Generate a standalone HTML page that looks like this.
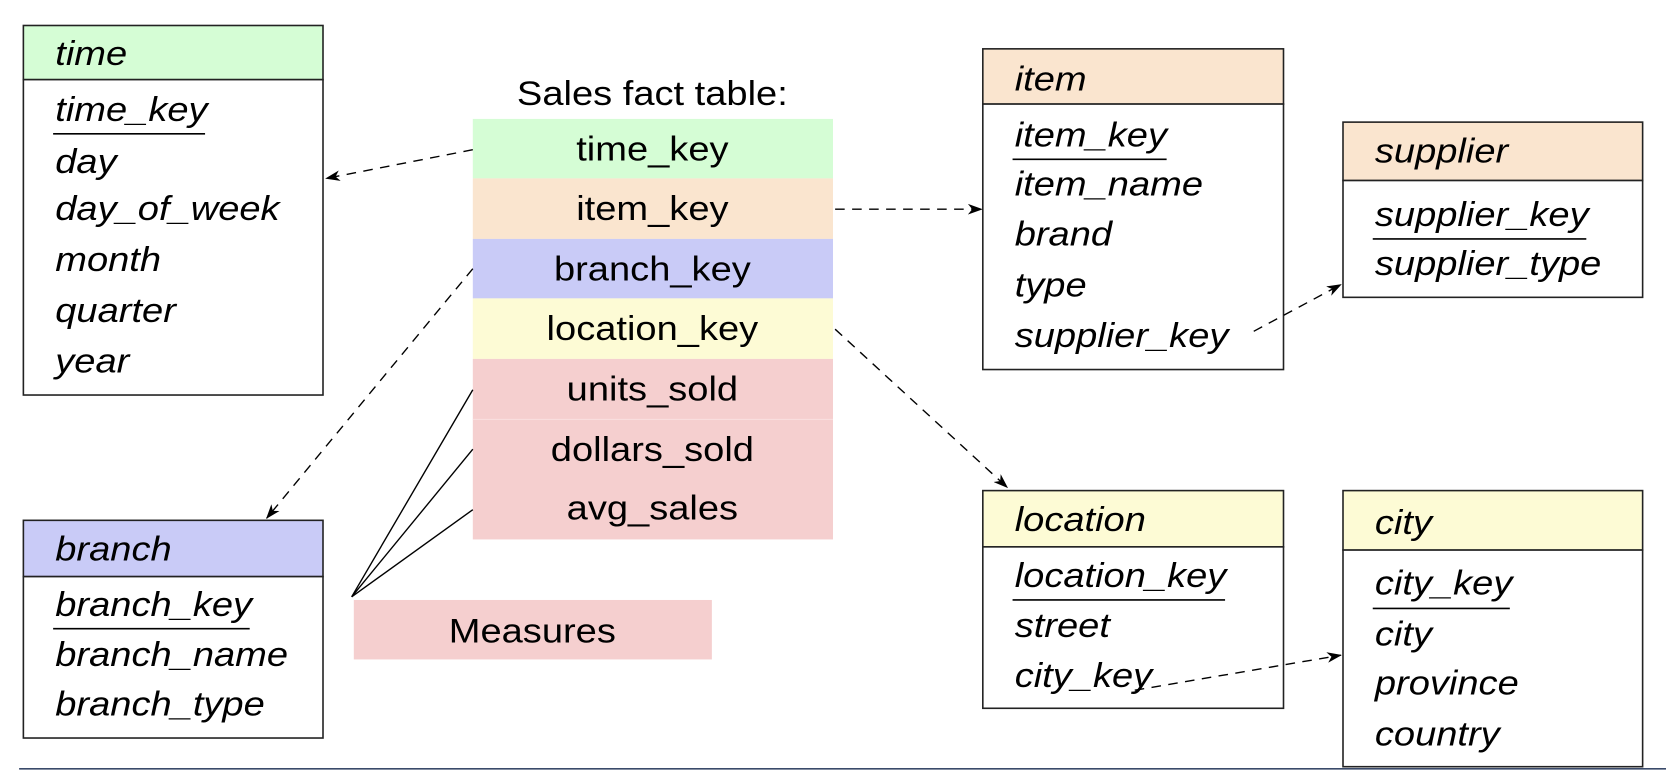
<!DOCTYPE html>
<html><head><meta charset="utf-8"><style>
html,body{margin:0;padding:0;background:#fff;width:1666px;height:772px;overflow:hidden}
svg{display:block}
text{font-family:"Liberation Sans",Arial,sans-serif;font-size:32px;fill:#000}
.i text{font-style:italic}
</style></head><body>
<svg width="1666" height="772" viewBox="0 0 1568 727" preserveAspectRatio="none" xmlns="http://www.w3.org/2000/svg">
<defs>
<marker id="ar" markerWidth="14" markerHeight="10" refX="13" refY="5" orient="auto" markerUnits="userSpaceOnUse">
<path d="M0,0 L14,5 L0,10 L4,5 Z" fill="#000"/>
</marker>
</defs>
<g stroke="#222" stroke-width="1.5">
<rect x="22" y="24" width="282" height="51" fill="#d5fdd5"/>
<rect x="22" y="75" width="282" height="297" fill="#fff"/>
<rect x="925" y="46" width="283" height="52" fill="#fae5cf"/>
<rect x="925" y="98" width="283" height="250" fill="#fff"/>
<rect x="1264" y="115" width="282" height="55" fill="#fae5cf"/>
<rect x="1264" y="170" width="282" height="110" fill="#fff"/>
<rect x="925" y="462" width="283" height="53" fill="#fdfbd5"/>
<rect x="925" y="515" width="283" height="152" fill="#fff"/>
<rect x="1264" y="462" width="282" height="56" fill="#fdfbd5"/>
<rect x="1264" y="518" width="282" height="204" fill="#fff"/>
<rect x="22" y="490" width="282" height="53" fill="#c9cbf7"/>
<rect x="22" y="543" width="282" height="152" fill="#fff"/>
</g>
<rect x="445" y="112" width="339" height="56" fill="#d5fdd5"/>
<rect x="445" y="168" width="339" height="57" fill="#fae5cf"/>
<rect x="445" y="225" width="339" height="56" fill="#c9cbf7"/>
<rect x="445" y="281" width="339" height="57" fill="#fdfbd5"/>
<rect x="445" y="338" width="339" height="170" fill="#f5cfcf"/>
<line x1="445" y1="395" x2="784" y2="395" stroke="#f9dede" stroke-width="1"/>
<rect x="333" y="565" width="337" height="56" fill="#f5cfcf"/>
<line x1="18" y1="724" x2="1568" y2="724" stroke="#3a4a6a" stroke-width="1.5"/>
<g stroke="#000" stroke-width="1.5">
<line x1="50" y1="126" x2="193" y2="126"/>
<line x1="953" y1="150" x2="1098" y2="150"/>
<line x1="1292" y1="225" x2="1493" y2="225"/>
<line x1="953" y1="565" x2="1153" y2="565"/>
<line x1="1292" y1="573" x2="1421" y2="573"/>
<line x1="50" y1="592" x2="235" y2="592"/>
</g>
<g stroke="#000" stroke-width="1.3" fill="none">
<line x1="445" y1="141" x2="307" y2="168" stroke-dasharray="9,7" marker-end="url(#ar)"/>
<line x1="786" y1="197" x2="924" y2="197" stroke-dasharray="9,7" marker-end="url(#ar)"/>
<line x1="445" y1="253" x2="251" y2="488" stroke-dasharray="9,7" marker-end="url(#ar)"/>
<line x1="786" y1="310" x2="948" y2="459" stroke-dasharray="9,7" marker-end="url(#ar)"/>
<line x1="1180" y1="312" x2="1262" y2="268" stroke-dasharray="9,7" marker-end="url(#ar)"/>
<line x1="1068" y1="650" x2="1262" y2="617" stroke-dasharray="9,7" marker-end="url(#ar)"/>
<line x1="331" y1="562" x2="445" y2="367"/>
<line x1="331" y1="562" x2="445" y2="423"/>
<line x1="331" y1="562" x2="445" y2="480"/>
</g>
<g class="i">
<text transform="translate(52,61) scale(1.12,1)">time</text>
<text transform="translate(52,114) scale(1.12,1)">time_key</text>
<text transform="translate(52,163) scale(1.12,1)">day</text>
<text transform="translate(52,207) scale(1.12,1)">day_of_week</text>
<text transform="translate(52,255) scale(1.12,1)">month</text>
<text transform="translate(52,303) scale(1.12,1)">quarter</text>
<text transform="translate(52,351) scale(1.12,1)">year</text>

<text transform="translate(955,85) scale(1.12,1)">item</text>
<text transform="translate(955,138) scale(1.12,1)">item_key</text>
<text transform="translate(955,184) scale(1.12,1)">item_name</text>
<text transform="translate(955,231) scale(1.12,1)">brand</text>
<text transform="translate(955,279) scale(1.12,1)">type</text>
<text transform="translate(955,327) scale(1.12,1)">supplier_key</text>

<text transform="translate(1294,153) scale(1.12,1)">supplier</text>
<text transform="translate(1294,213) scale(1.12,1)">supplier_key</text>
<text transform="translate(1294,259) scale(1.12,1)">supplier_type</text>

<text transform="translate(955,500) scale(1.12,1)">location</text>
<text transform="translate(955,553) scale(1.12,1)">location_key</text>
<text transform="translate(955,600) scale(1.12,1)">street</text>
<text transform="translate(955,647) scale(1.12,1)">city_key</text>

<text transform="translate(1294,503) scale(1.12,1)">city</text>
<text transform="translate(1294,560) scale(1.12,1)">city_key</text>
<text transform="translate(1294,608) scale(1.12,1)">city</text>
<text transform="translate(1294,654) scale(1.12,1)">province</text>
<text transform="translate(1294,702) scale(1.12,1)">country</text>

<text transform="translate(52,528) scale(1.12,1)">branch</text>
<text transform="translate(52,580) scale(1.12,1)">branch_key</text>
<text transform="translate(52,627) scale(1.12,1)">branch_name</text>
<text transform="translate(52,674) scale(1.12,1)">branch_type</text>
</g>
<g text-anchor="middle">
<text transform="translate(614,99) scale(1.12,1)">Sales fact table:</text>
<text transform="translate(614,151) scale(1.12,1)">time_key</text>
<text transform="translate(614,207) scale(1.12,1)">item_key</text>
<text transform="translate(614,264) scale(1.12,1)">branch_key</text>
<text transform="translate(614,320) scale(1.12,1)">location_key</text>
<text transform="translate(614,377) scale(1.12,1)">units_sold</text>
<text transform="translate(614,434) scale(1.12,1)">dollars_sold</text>
<text transform="translate(614,489) scale(1.12,1)">avg_sales</text>
<text transform="translate(501,605) scale(1.12,1)">Measures</text>
</g>
</svg>
</body></html>
